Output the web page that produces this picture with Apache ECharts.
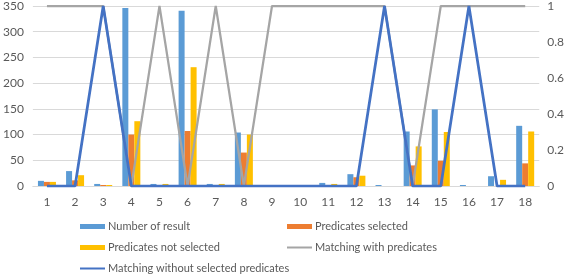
<!DOCTYPE html>
<html>
<head>
<meta charset="utf-8">
<script src="https://cdn.jsdelivr.net/npm/echarts@6/dist/echarts.min.js"></script>
<style>
  html, body { margin: 0; padding: 0; background: #fff; }
  #chart { width: 567px; height: 276px; }
</style>
</head>
<body>
<div id="chart"></div>
<script>
const categories = ['1', '2', '3', '4', '5', '6', '7', '8', '9', '10', '11', '12', '13', '14', '15', '16', '17', '18']
const numberOfResult = [10, 29, 4, 346, 4, 341, 4, 104, 2, 0, 6, 23, 2, 106, 149, 2, 19, 117]
const predicatesSelected = [8, 11, 2, 100, 0, 107, 2, 65, 0, 0, 2, 17, 0, 40, 49, 0, 0, 44]
const predicatesNotSelected = [8, 21, 2, 126, 4, 231, 4, 100, 2, 0, 4, 20, 0, 77, 105, 0, 12, 106]
const matchingWith = [1, 1, 1, 0, 1, 0, 1, 0, 1, 1, 1, 1, 1, 0, 1, 1, 1, 1]
const matchingWithout = [0, 0, 1, 0, 0, 0, 0, 0, 0, 0, 0, 0, 1, 0, 0, 1, 0, 0]

const font = 'Lato'
const textColor = '#595959'

const myChart = echarts.init(document.getElementById('chart'))

// one legend per entry so they sit in the two-column layout
function legendItem(name, left, top, h) {
    return {
        data: [{ name: name, icon: 'rect' }],
        left: left,
        top: top,
        itemWidth: 25,
        itemHeight: h,
        itemGap: 2,
        padding: 0,
        textStyle: { color: textColor, fontFamily: font, fontSize: 11, padding: [0, 0, 0, -2] }
    }
}

const option = {
    animation: false,
    textStyle: { fontFamily: font },
    legend: [
        legendItem('Number of result', 80, 221, 5),
        legendItem('Predicates selected', 287, 221, 5),
        legendItem('Predicates not selected', 80, 242, 5),
        legendItem('Matching with predicates', 287, 242, 2),
        legendItem('Matching without selected predicates', 80, 263, 2)
    ],
    grid: {
        left: 29,
        right: 25,
        top: 5,
        bottom: 90
    },
    xAxis: {
        type: 'category',
        data: categories,
        axisLine: { show: true, lineStyle: { color: '#D9D9D9' } },
        axisTick: { show: false },
        axisLabel: { color: textColor, fontSize: 12, fontFamily: font, margin: 10 }
    },
    yAxis: [{
        type: 'value',
        min: 0,
        max: 350,
        interval: 50,
        axisLine: { show: false },
        axisTick: { show: false },
        splitLine: { lineStyle: { color: '#D9D9D9' } },
        axisLabel: { color: textColor, fontSize: 12, fontFamily: font, margin: 9 }
    }, {
        type: 'value',
        min: 0,
        max: 1,
        interval: 0.2,
        axisLine: { show: false },
        axisTick: { show: false },
        splitLine: { show: false },
        axisLabel: { color: textColor, fontSize: 12, fontFamily: font, margin: 8 }
    }],
    series: [{
        name: 'Number of result',
        type: 'bar',
        barWidth: 6,
        barGap: '0%',
        itemStyle: { color: '#5B9BD5' },
        data: numberOfResult
    }, {
        name: 'Predicates selected',
        type: 'bar',
        barWidth: 6,
        barGap: '0%',
        itemStyle: { color: '#ED7D31' },
        data: predicatesSelected
    }, {
        name: 'Predicates not selected',
        type: 'bar',
        barWidth: 6,
        barGap: '0%',
        itemStyle: { color: '#FFC000' },
        data: predicatesNotSelected
    }, {
        name: 'Matching with predicates',
        type: 'line',
        yAxisIndex: 1,
        symbol: 'none',
        lineStyle: { color: '#A5A5A5', width: 2.25 },
        itemStyle: { color: '#A5A5A5' },
        data: matchingWith
    }, {
        name: 'Matching without selected predicates',
        type: 'line',
        yAxisIndex: 1,
        symbol: 'none',
        lineStyle: { color: '#4472C4', width: 2.75 },
        itemStyle: { color: '#4472C4' },
        data: matchingWithout
    }]
}
myChart.setOption(option)
</script>
</body>
</html>
